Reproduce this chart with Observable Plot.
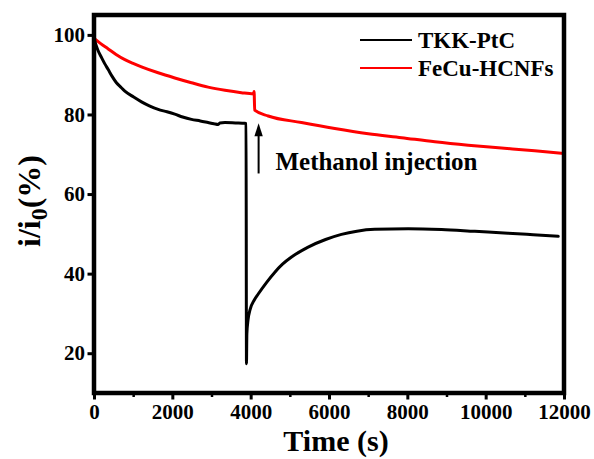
<!DOCTYPE html>
<html>
<head>
<meta charset="utf-8">
<script src="https://cdn.jsdelivr.net/npm/d3@7"></script>
<script src="https://cdn.jsdelivr.net/npm/@observablehq/plot@0.6"></script>
<style>
  body { margin: 0; background: #fff; }
  #chart svg { display: block; }
</style>
</head>
<body>
<div id="chart"></div>
<script>
// Chronoamperometric stability, normalised current i/i0 (%) vs time (s)
const seriesNames = ["TKK-PtC", "FeCu-HCNFs"];
const seriesColors = ["#000000", "#ff0000"];

// TKK-PtC: steady decay, sharp collapse at methanol injection, partial recovery
const ptcTime  = [0, 45, 90, 180, 260, 350, 450, 560, 670, 775, 1000, 1200, 1400, 1625, 1850, 2050, 2250, 2475, 2700, 2900, 3050, 3160, 3200, 3330, 3600, 3840, 3870,
                  3880, 3890, 3920, 3970, 4080, 4180, 4400, 4605, 4800, 5030, 5455, 5900, 6305, 6700, 7155, 8010, 8860, 9710, 10560, 11200, 11840];
const ptcValue = [98.8, 97.4, 96.2, 94.4, 92.9, 91.4, 89.7, 88.1, 87.0, 86.0, 84.5, 83.3, 82.3, 81.4, 80.8, 80.2, 79.5, 78.9, 78.5, 78.1, 77.8, 77.6, 78.0, 78.1, 78.0, 77.9, 77.8,
                  17.5, 25.0, 28.5, 31.0, 33.5, 35.0, 38.0, 40.5, 42.5, 44.3, 46.8, 48.7, 50.0, 50.8, 51.25, 51.4, 51.2, 50.75, 50.3, 49.9, 49.5];

// FeCu-HCNFs: slow decay with a small step at injection
const hcnfTime  = [0, 150, 350, 550, 775, 1000, 1200, 1625, 2050, 2475, 2900, 3330, 3750, 4060, 4075, 4090, 4435, 5285, 6135, 6990, 7840, 8690, 9540, 10390, 11240, 12000];
const hcnfValue = [99.2, 98.0, 96.6, 95.2, 93.9, 92.9, 92.1, 90.6, 89.3, 88.1, 87.0, 86.2, 85.6, 85.3, 85.9, 81.2, 79.75, 78.1, 76.6, 75.3, 74.3, 73.25, 72.4, 71.7, 71.0, 70.3];

const xTicks = [0, 2000, 4000, 6000, 8000, 10000, 12000];
const xMinorTicks = [1000, 3000, 5000, 7000, 9000, 11000];
const yTicks = [20, 40, 60, 80, 100];

// Injection annotation
const arrowTime = 4190;
const arrowBase = 65.3;
const arrowHead = 75.8;
const noteText = "Methanol injection";
const noteTime = 4620;
const noteValue = 68.2;

const xTitle = "Time (s)";

const ptc = ptcTime.map((t, i) => ({t, v: ptcValue[i], s: seriesNames[0]}));
const hcnf = hcnfTime.map((t, i) => ({t, v: hcnfValue[i], s: seriesNames[1]}));

const serif = "'Liberation Serif', 'Times New Roman', Times, serif";

// narrow filled arrowhead
const arrowSymbol = {
  draw(ctx) {
    ctx.moveTo(0, -8.5);
    ctx.lineTo(4.2, 4.5);
    ctx.lineTo(-4.2, 4.5);
    ctx.closePath();
  }
};

const W = 594, H = 459;
const mL = 94, mR = 30, mT = 15, mB = 66;

const chart = Plot.plot({
  width: W,
  height: H,
  marginLeft: mL,
  marginRight: mR,
  marginTop: mT,
  marginBottom: mB,
  style: {fontFamily: serif, fontWeight: "bold", background: "#fff", color: "#000", overflow: "visible"},
  x: {domain: [0, 12000]},
  y: {domain: [10, 105]},
  marks: [
    Plot.axisX({ticks: xMinorTicks, tickSize: 4, strokeWidth: 2.5, text: null, label: null}),
    Plot.axisX({ticks: xTicks, tickSize: 6.5, strokeWidth: 3, tickPadding: 4, fontSize: 21, tickFormat: d => String(d), label: null}),
    Plot.axisY({ticks: yTicks, tickSize: 6.5, strokeWidth: 3, tickPadding: 3, fontSize: 21, tickFormat: d => String(d), label: null}),
    Plot.line(hcnf, {x: "t", y: "v", stroke: seriesColors[1], strokeWidth: 3, curve: "monotone-x"}),
    Plot.line(ptc, {x: "t", y: "v", stroke: seriesColors[0], strokeWidth: 3, curve: "monotone-x"}),
    Plot.link([{t: arrowTime}], {x1: "t", x2: "t", y1: () => arrowBase, y2: () => arrowHead - 1, stroke: "#000", strokeWidth: 2}),
    Plot.dot([{t: arrowTime}], {x: "t", y: () => arrowHead, symbol: arrowSymbol, fill: "#000", stroke: "none", r: 6}),
    Plot.text([noteText], {x: () => noteTime, y: () => noteValue, text: d => d, textAnchor: "start", fontSize: 25, fontWeight: "bold", fill: "#000"})
  ]
});

document.getElementById("chart").appendChild(chart);

const svg = d3.select(chart);

// heavy black box around the plotting area, from the chart's own scales
const xr = chart.scale("x").range;
const yr = chart.scale("y").range;
svg.append("rect")
  .attr("x", Math.min(...xr)).attr("y", Math.min(...yr))
  .attr("width", Math.abs(xr[1] - xr[0])).attr("height", Math.abs(yr[1] - yr[0]))
  .attr("fill", "none").attr("stroke", "#000").attr("stroke-width", 4.5);

// axis titles
svg.append("text")
  .attr("x", 336).attr("y", 451)
  .attr("text-anchor", "middle")
  .attr("font-family", serif).attr("font-weight", "bold").attr("font-size", 30)
  .attr("fill", "#000")
  .text(xTitle);

const yl = svg.append("text")
  .attr("transform", "translate(40,201) rotate(-90)")
  .attr("text-anchor", "middle")
  .attr("font-family", serif).attr("font-weight", "bold").attr("font-size", 32)
  .attr("fill", "#000");
yl.append("tspan").text("i/i");
yl.append("tspan").attr("dy", 7).attr("font-size", 24).text("0");
yl.append("tspan").attr("dy", -7).text("(%)");

// legend
const lg = svg.append("g")
  .attr("font-family", serif).attr("font-weight", "bold").attr("font-size", 23)
  .attr("text-anchor", "start");
seriesNames.forEach((name, i) => {
  const y = 40 + i * 28;
  lg.append("line").attr("x1", 360).attr("x2", 412).attr("y1", y).attr("y2", y)
    .attr("stroke", seriesColors[i]).attr("stroke-width", 2);
  lg.append("text").attr("x", 418).attr("y", y).attr("dy", "0.35em")
    .attr("text-anchor", "start").attr("fill", "#000").text(name);
});
</script>
</body>
</html>
